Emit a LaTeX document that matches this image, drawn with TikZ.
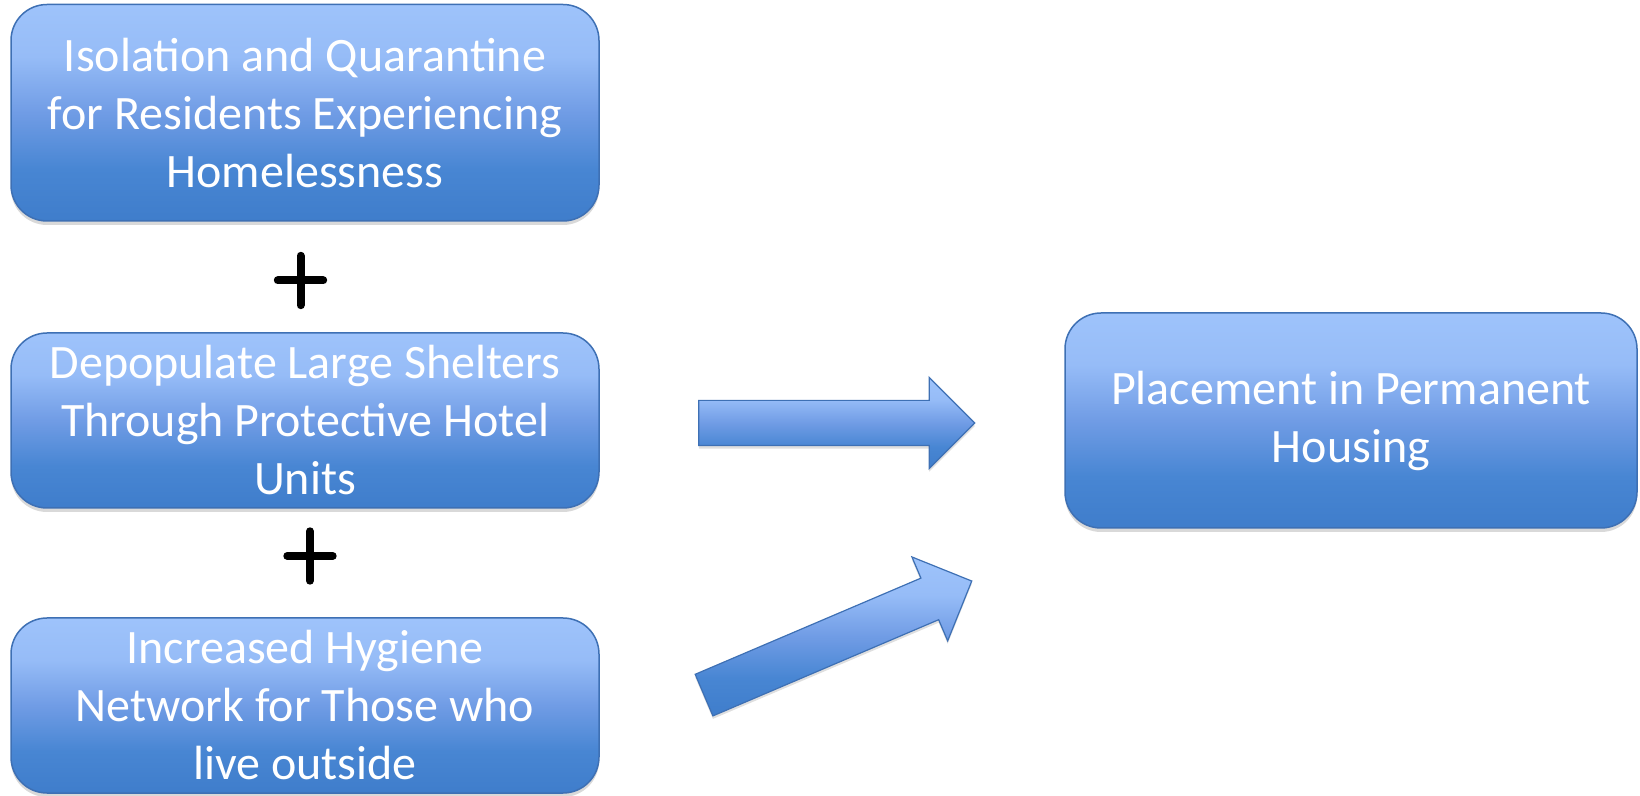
\documentclass[tikz,border=0pt]{standalone}
\usepackage{fontspec}
\setmainfont{Carlito}
\usepackage{xcolor}
\usetikzlibrary{positioning,shapes.arrows,shadows}
\definecolor{boxtop}{RGB}{158,195,251}
\definecolor{boxupper}{RGB}{150,188,247}
\definecolor{boxmid}{RGB}{112,156,229}
\definecolor{boxlow}{RGB}{72,134,211}
\definecolor{boxbot}{RGB}{63,125,203}
\definecolor{boxline}{RGB}{62,112,180}
\pgfdeclareverticalshading{boxshade}{100bp}{color(0bp)=(boxbot); color(25bp)=(boxbot); color(37bp)=(boxlow); color(50bp)=(boxmid); color(63bp)=(boxupper); color(75bp)=(boxtop); color(100bp)=(boxtop)}

\begin{document}
\begin{tikzpicture}[x=1pt,y=1pt,
    every node/.style={on grid},
    box/.style={draw=boxline, line width=1.5pt, rounded corners=36pt, shade, shading=boxshade,
      drop shadow={shadow xshift=0pt, shadow yshift=-4pt, opacity=0.3},
      minimum width=588pt, align=center, text=white, font=\fontsize{48}{58}\selectfont},
    bigarrow/.style={single arrow, draw=boxline, line width=1.2pt, shade, shading=boxshade,
      drop shadow={shadow xshift=0pt, shadow yshift=-3pt, opacity=0.25},
      minimum width=90pt, single arrow head extend=23pt, inner xsep=0pt, inner ysep=22pt},
    plus/.style={inner sep=0pt, minimum width=45pt, minimum height=49pt},
    plusline/.style={line width=8pt, line cap=round}]
  \useasboundingbox (0,0) rectangle (1640,795);
  \node[box, minimum height=216.5pt] (iso) at (305,682.25)
    {Isolation and Quarantine\\for Residents Experiencing\\Homelessness};
  \node[box, minimum height=175pt, below of=iso, node distance=307.75pt] (depop)
    {Depopulate Large Shelters\\Through Protective Hotel\\Units};
  \node[box, minimum height=175pt, below of=depop, node distance=285pt] (hygiene)
    {Increased Hygiene\\Network for Those who\\live outside};
  \node[box, minimum width=572pt, minimum height=215pt, right of=depop, node distance=1046pt] (perm)
    {Placement in Permanent\\Housing};
  \node[plus] (plusA) at (300.5,514.5) {};
  \node[plus] (plusB) at (310,239) {};
  \draw[plusline] (plusA.north) -- (plusA.south) (plusA.west) -- (plusA.east);
  \draw[plusline] (plusB.north) -- (plusB.south) (plusB.west) -- (plusB.east);
  \node[bigarrow, minimum height=276pt] (arrA) at (825.5,372) {};
  \node[bigarrow, minimum height=291pt, rotate=23.08] (arrB) at (827.5,152.5) {};
\end{tikzpicture}
\end{document}
